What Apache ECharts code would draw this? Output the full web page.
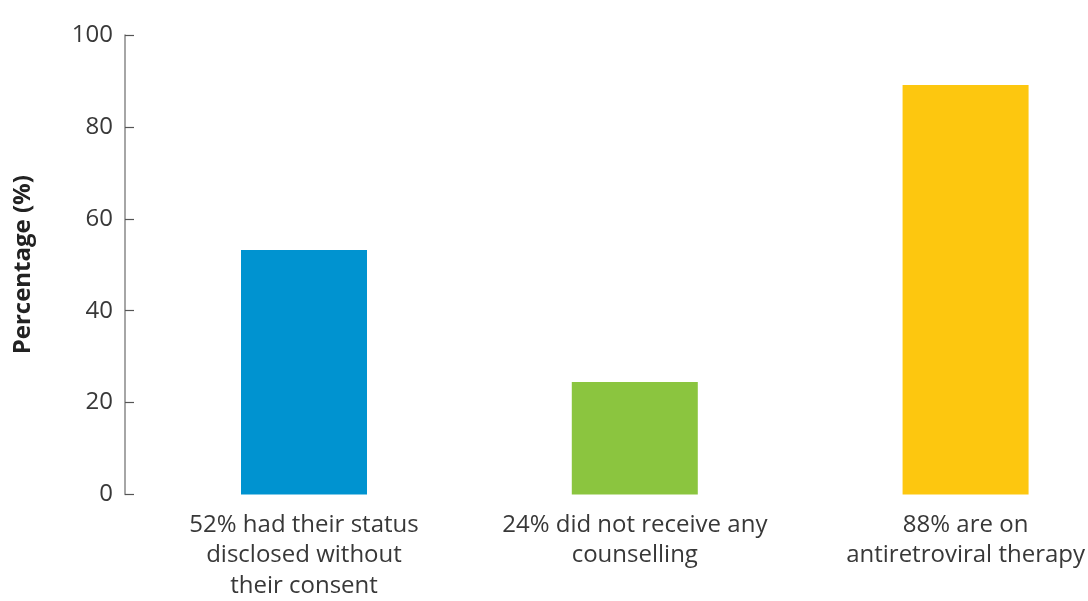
<!DOCTYPE html>
<html>
<head>
<meta charset="utf-8">
<script src="https://cdn.jsdelivr.net/npm/echarts@6/dist/echarts.min.js"></script>
<style>html,body{margin:0;padding:0;background:#fff;}#c{width:1088px;height:601px;}</style>
</head>
<body>
<div id="c"></div>
<script>
var categories = ["52% had their status\ndisclosed without\ntheir consent", "24% did not receive any\ncounselling", "88% are on\nantiretroviral therapy"];
var values = [53.2, 24.5, 89.1];
var barColors = ["#0093D0", "#8BC53F", "#FDC70F"];
var yTicks = { min: 0, max: 100, interval: 20 };
var yName = "Percentage (%)";

var chart = echarts.init(document.getElementById('c'));
var FONT = 'Open Sans';
chart.setOption({
  animation: false,
  backgroundColor: '#fff',
  grid: { left: 304, right: 119, top: 35, bottom: 105.3, containLabel: false },
  xAxis: {
    type: 'category',
    data: categories,
    boundaryGap: false,
    axisLine: { show: false },
    axisTick: { show: false },
    splitLine: { show: false },
    axisLabel: { color: '#383838', fontFamily: FONT, fontSize: 24, lineHeight: 30.5, margin: 15, interval: 0 }
  },
  yAxis: {
    type: 'value',
    min: yTicks.min, max: yTicks.max, interval: yTicks.interval,
    offset: 179,
    name: yName,
    nameLocation: 'middle',
    nameGap: 90,
    nameTextStyle: { color: '#222', fontFamily: FONT, fontSize: 24, fontWeight: 'bold' },
    axisLine: { show: true, lineStyle: { color: '#888', width: 1.5 } },
    axisTick: { show: true, inside: true, length: 9, lineStyle: { color: '#555', width: 1.2 } },
    splitLine: { show: false },
    axisLabel: { color: '#383838', fontFamily: FONT, fontSize: 24, margin: 12, padding: [0, 0, 9, 0] }
  },
  series: [{
    type: 'bar',
    clip: false,
    barWidth: 126,
    data: values.map(function (v, i) { return { value: v, itemStyle: { color: barColors[i] } }; })
  }]
});
</script>
</body>
</html>
